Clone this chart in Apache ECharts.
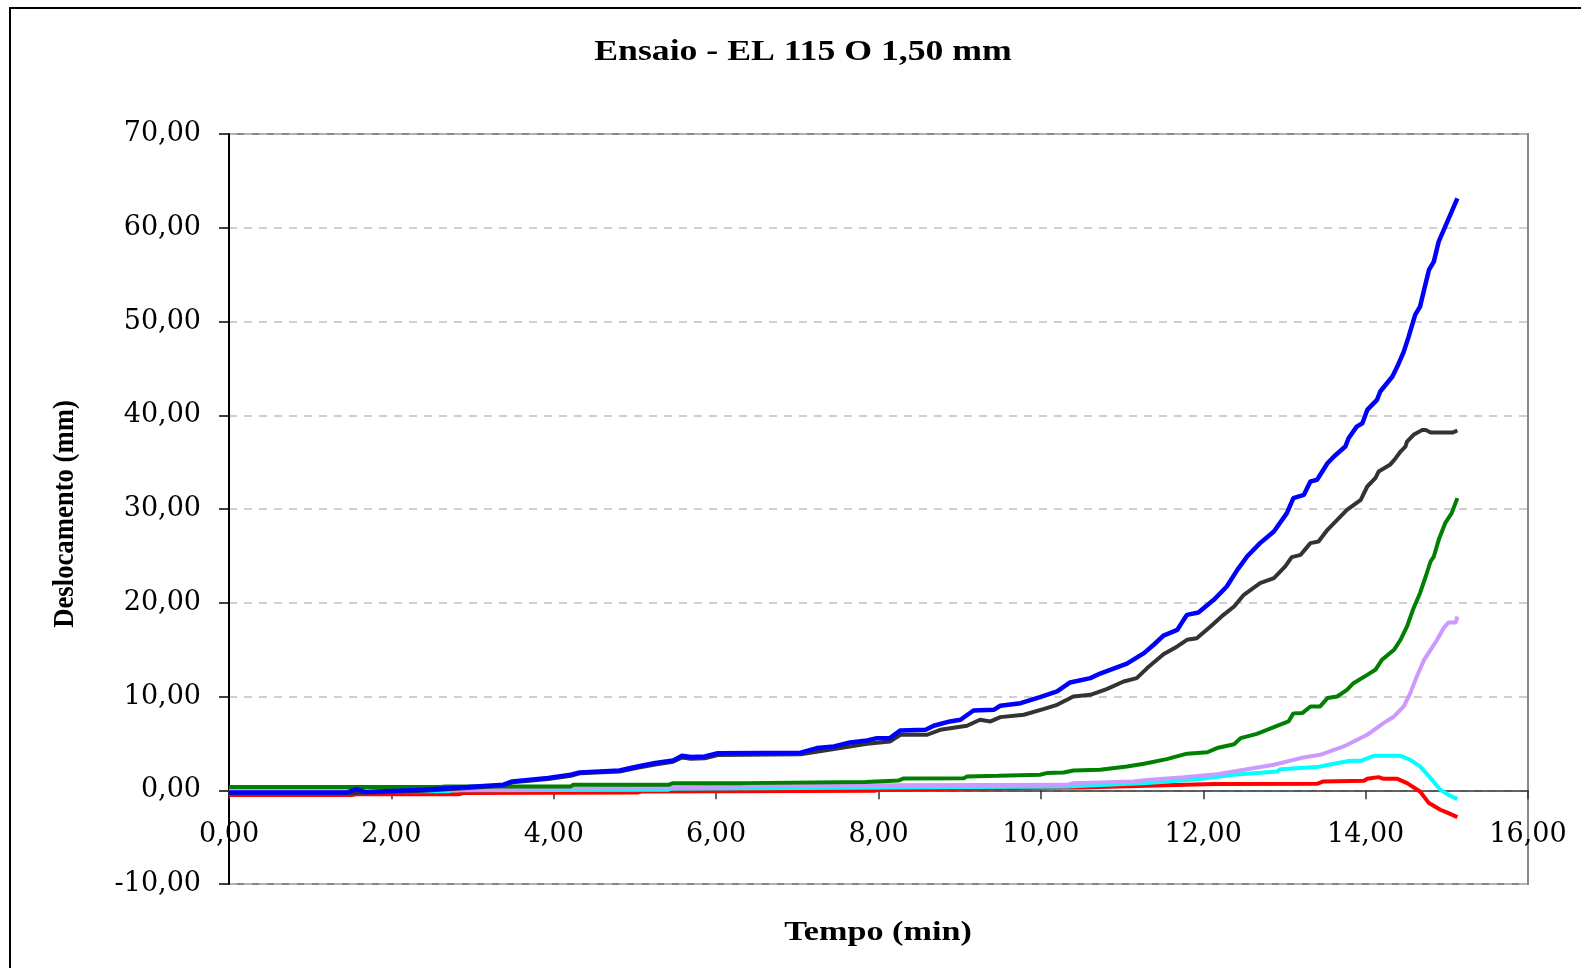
<!DOCTYPE html>
<html>
<head>
<meta charset="utf-8">
<script src="https://cdn.jsdelivr.net/npm/echarts@6/dist/echarts.min.js"></script>
<style>
html,body{margin:0;padding:0;background:#fff;}
#chart{width:1581px;height:968px;}
</style>
</head>
<body>
<div id="chart"></div>
<script>
const titleText = "Ensaio - EL 115 O 1,50 mm";
const xAxisName = "Tempo (min)";
const yAxisName = "Deslocamento (mm)";
const xTicks = [0, 2, 4, 6, 8, 10, 12, 14, 16];
const yTicks = [-10, 0, 10, 20, 30, 40, 50, 60, 70];

const blueT = [0,1.46,1.57,1.68,1.84,2.39,2.94,3.38,3.49,3.93,4.21,4.32,4.81,5.03,5.25,5.47,5.58,5.69,5.86,6.02,7.04,7.24,7.45,7.65,7.86,7.98,8.14,8.27,8.58,8.68,8.88,9.01,9.17,9.42,9.50,9.75,9.99,10.20,10.36,10.61,10.73,11.06,11.27,11.39,11.51,11.68,11.76,11.80,11.94,12.13,12.29,12.42,12.54,12.70,12.87,13.03,13.11,13.24,13.32,13.40,13.53,13.61,13.75,13.79,13.89,13.96,14.02,14.14,14.18,14.33,14.39,14.47,14.53,14.61,14.67,14.72,14.78,14.84,14.90,14.98,15.06,15.13];
const blueV = [-0.23,-0.23,0.12,-0.2,-0.13,0.05,0.34,0.59,0.94,1.3,1.65,1.9,2.11,2.54,2.9,3.18,3.68,3.54,3.61,3.95,4.0,4.5,4.67,5.1,5.31,5.56,5.56,6.38,6.45,6.88,7.34,7.52,8.51,8.58,9.01,9.29,9.93,10.54,11.5,11.96,12.45,13.5,14.63,15.52,16.5,17.1,18.2,18.71,18.96,20.31,21.73,23.51,24.93,26.36,27.6,29.56,31.16,31.51,32.93,33.1,34.88,35.6,36.66,37.55,38.79,39.15,40.57,41.64,42.53,44.13,45.19,46.79,48.39,50.7,51.59,53.37,55.5,56.39,58.52,60.12,61.72,63.14];

const blackT = [0,1.5,2.4,2.94,3.38,3.49,3.93,4.21,4.32,4.81,5.03,5.25,5.47,5.58,5.69,5.86,6.02,7.04,7.45,7.86,8.14,8.27,8.60,8.76,9.09,9.25,9.38,9.50,9.79,10.03,10.20,10.40,10.61,10.81,11.02,11.18,11.31,11.51,11.68,11.80,11.92,12.09,12.25,12.38,12.50,12.70,12.87,13.01,13.09,13.20,13.32,13.42,13.53,13.65,13.77,13.94,14.02,14.12,14.16,14.30,14.37,14.43,14.49,14.51,14.59,14.70,14.74,14.80,15.07,15.13];
const blackV = [-0.3,-0.3,-0.05,0.25,0.5,0.85,1.2,1.55,1.8,2.0,2.4,2.75,3.05,3.5,3.35,3.4,3.75,3.85,4.39,4.96,5.2,5.92,5.92,6.45,6.88,7.52,7.34,7.8,8.05,8.65,9.11,10.0,10.18,10.79,11.6,11.96,13.03,14.5,15.34,16.05,16.22,17.47,18.71,19.6,20.85,22.09,22.62,23.87,24.86,25.11,26.36,26.53,27.78,28.84,29.91,30.98,32.4,33.3,33.99,34.71,35.42,36.13,36.66,37.19,37.91,38.44,38.44,38.15,38.15,38.37];

const greenT = [0,2.6,2.67,4.21,4.24,5.42,5.47,6.33,6.35,7.84,7.86,8.25,8.31,9.05,9.09,9.48,9.50,9.99,10.07,10.28,10.40,10.73,11.06,11.27,11.55,11.80,12.05,12.17,12.38,12.46,12.66,12.87,13.05,13.11,13.22,13.32,13.44,13.53,13.65,13.77,13.85,14.02,14.12,14.20,14.35,14.43,14.51,14.59,14.67,14.74,14.80,14.84,14.90,14.98,15.06,15.13];
const greenV = [0.34,0.34,0.41,0.41,0.59,0.59,0.76,0.76,0.87,0.87,1.05,1.05,1.26,1.29,1.47,1.54,1.65,1.65,1.83,1.9,2.11,2.18,2.54,2.82,3.32,3.9,4.05,4.5,4.9,5.56,6.02,6.73,7.34,8.2,8.23,8.94,8.94,9.83,10.0,10.71,11.42,12.31,12.85,13.91,14.98,16.05,17.47,19.42,21.02,22.8,24.4,24.93,26.71,28.49,29.56,31.16];

const lavenderT = [0,2.6,4.2,5.4,7.04,10.32,10.40,11.14,11.31,11.76,12.17,12.50,12.87,13.20,13.44,13.73,14.02,14.22,14.35,14.47,14.55,14.63,14.72,14.80,14.88,14.96,15.02,15.11,15.13];
const lavenderV = [0,0.05,0.2,0.3,0.5,0.58,0.76,0.94,1.1,1.4,1.7,2.18,2.72,3.43,3.78,4.67,5.92,7.16,7.87,8.94,10.36,12.14,13.91,14.98,16.05,17.29,17.9,17.9,18.53];

const cyanT = [0,2.7,2.75,5.4,5.45,7.04,10.32,11.31,11.96,12.37,12.91,12.95,13.40,13.61,13.81,13.94,14.10,14.43,14.55,14.67,14.80,14.92,15.02,15.13];
const cyanV = [-0.1,-0.1,0,0.05,0.15,0.23,0.41,0.76,1.19,1.65,2.0,2.25,2.47,2.82,3.14,3.14,3.67,3.67,3.25,2.54,1.29,0.05,-0.48,-0.95];

const redT = [0,1.51,1.57,2.83,2.89,5.03,5.09,7.95,8.0,9.66,10.49,11.31,12.13,13.40,13.48,13.98,14.02,14.16,14.22,14.39,14.51,14.67,14.78,14.92,15.02,15.13];
const redV = [-0.5,-0.5,-0.42,-0.42,-0.3,-0.25,-0.12,-0.05,0.05,0.23,0.30,0.47,0.67,0.69,0.94,1.01,1.22,1.40,1.22,1.22,0.76,-0.13,-1.37,-2.08,-2.44,-2.87];

function zip(t, v) { return t.map((x, i) => [x, v[i]]); }
function fmt(v) { return v.toFixed(2).replace('.', ','); }

const seriesDefs = [
  {name: 'red', t: redT, v: redV, color: '#FF0000', w: 4},
  {name: 'cyan', t: cyanT, v: cyanV, color: '#00FFFF', w: 4},
  {name: 'lavender', t: lavenderT, v: lavenderV, color: '#CC99FF', w: 4},
  {name: 'green', t: greenT, v: greenV, color: '#008000', w: 4},
  {name: 'black', t: blackT, v: blackV, color: '#333333', w: 4},
  {name: 'blue', t: blueT, v: blueV, color: '#0000FF', w: 4.5}
];

const W = 1581, H = 968;
const gridTop = 134, gridBottom = 84;
const yMin = yTicks[0], yMax = yTicks[yTicks.length - 1];
// move the x axis up to the zero line (distance of zero from the bottom edge of the grid)
const xAxisOffset = -((0 - yMin) / (yMax - yMin)) * (H - gridTop - gridBottom);

const chart = echarts.init(document.getElementById('chart'), null, {renderer: 'canvas'});
chart.setOption({
  backgroundColor: '#ffffff',
  animation: false,
  graphic: [
    {
      type: 'rect',
      shape: {x: 10, y: 8, width: 1700, height: 1100},
      style: {fill: 'none', stroke: '#000', lineWidth: 2},
      silent: true, z: 0
    },
    {
      type: 'text', x: 803, y: 52.5, scaleX: 1.19,
      style: {text: titleText, font: 'bold 30px "Liberation Serif"', fill: '#000', align: 'center', verticalAlign: 'middle'},
      silent: true
    },
    {
      type: 'text', x: 878, y: 932.5, scaleX: 1.22,
      style: {text: xAxisName, font: 'bold 28px "Liberation Serif"', fill: '#000', align: 'center', verticalAlign: 'middle'},
      silent: true
    },
    {
      type: 'text', x: 65, y: 514, rotation: Math.PI / 2, scaleX: 0.89,
      style: {text: yAxisName, font: 'bold 30px "Liberation Serif"', fill: '#000', align: 'center', verticalAlign: 'middle'},
      silent: true
    }
  ],
  grid: {left: 229, right: 53, top: gridTop, bottom: gridBottom, show: true, borderColor: '#888888', borderWidth: 2, backgroundColor: 'transparent', outerBoundsMode: 'none', containLabel: false},
  xAxis: {
    type: 'value',
    min: xTicks[0], max: xTicks[xTicks.length - 1], interval: 2,
    offset: xAxisOffset,
    axisLine: {onZero: false, lineStyle: {color: '#333', width: 1.5}},
    axisTick: {show: true, inside: false, length: 9, lineStyle: {color: '#333', width: 1.5}},
    axisLabel: {fontFamily: 'DejaVu Serif', fontSize: 27, color: '#000', margin: 31, formatter: fmt},
    splitLine: {show: false}
  },
  yAxis: {
    type: 'value',
    min: yMin, max: yMax, interval: 10,
    axisLine: {show: true, onZero: false, lineStyle: {color: '#000', width: 2}},
    axisTick: {show: true, inside: false, length: 10, lineStyle: {color: '#000', width: 1.5}},
    axisLabel: {fontFamily: 'DejaVu Serif', fontSize: 27, color: '#000', margin: 28, formatter: fmt},
    splitLine: {show: true, lineStyle: {color: '#c0c0c0', width: 1.5, type: [8, 7]}}
  },
  series: seriesDefs.map(s => ({
    name: s.name,
    type: 'line',
    data: zip(s.t, s.v),
    showSymbol: false,
    symbol: 'none',
    lineStyle: {color: s.color, width: s.w},
    itemStyle: {color: s.color}
  }))
});
</script>
</body>
</html>
